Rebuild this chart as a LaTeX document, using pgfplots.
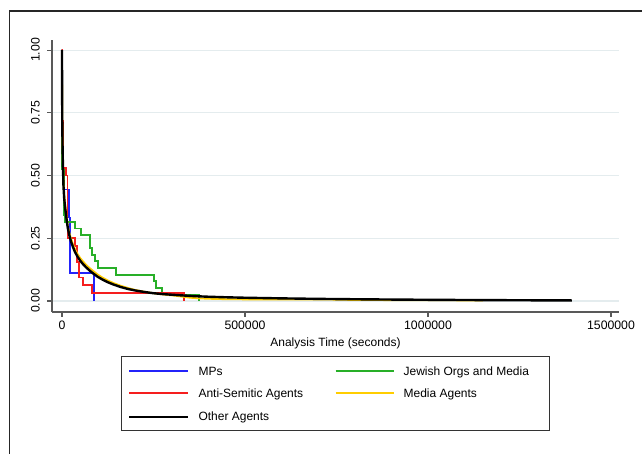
\documentclass[border=0pt]{standalone}
\usepackage{fontspec}
\setmainfont{Liberation Sans}
\usepackage{pgfplots}
\pgfplotsset{compat=1.18}
\usepackage{pgfplotstable}

\definecolor{mpblue}{RGB}{35,35,250}
\definecolor{asred}{RGB}{245,30,30}
\definecolor{jogreen}{RGB}{40,175,40}
\definecolor{mdyellow}{RGB}{255,205,0}
\definecolor{gridc}{RGB}{228,236,238}

% Kaplan-Meier survival estimates: time (s), survival
\pgfplotstableread{
t s
0 1
1000 0.667
4000 0.444
19000 0.333
21500 0.111
87000 0
}\kmMPs

\pgfplotstableread{
t s
0 1
1000 0.526
5000 0.342
8000 0.316
35000 0.289
53000 0.263
76000 0.211
83000 0.184
90000 0.158
98000 0.132
147000 0.105
251000 0.079
257000 0.053
273000 0.026
373500 0
}\kmJewish

\pgfplotstableread{
t s
0 1
800 0.719
3500 0.531
10000 0.5
15000 0.25
36000 0.219
40000 0.156
47000 0.094
58000 0.0625
81000 0.031
333000 0
}\kmAntiSem

\pgfplotstableread{
t s
0 1
300 0.86
800 0.73
1500 0.63
2500 0.55
4000 0.47
6000 0.42
8000 0.39
10000 0.365
13000 0.33
16000 0.30
20000 0.272
25000 0.247
30000 0.226
35000 0.208
42000 0.189
50000 0.171
58000 0.157
66000 0.144
75000 0.132
85000 0.12
97000 0.106
110000 0.094
125000 0.082
140000 0.072
160000 0.061
180000 0.052
200000 0.044
225000 0.037
250000 0.031
270000 0.027
290000 0.024
310000 0.021
330000 0.017
350000 0.013
380000 0.010
420000 0.008
460000 0.007
500000 0.0065
600000 0.006
700000 0.006
750000 0.0055
800000 0.004
900000 0.0035
1000000 0.003
1100000 0.0025
1150000 0.0025
}\kmMedia

\pgfplotstableread{
t s
0 1
300 0.85
800 0.72
1500 0.62
2500 0.54
4000 0.46
6000 0.41
8000 0.38
10000 0.355
13000 0.32
16000 0.29
20000 0.262
25000 0.236
30000 0.215
35000 0.197
42000 0.178
50000 0.16
58000 0.146
66000 0.134
75000 0.122
85000 0.11
97000 0.097
110000 0.086
125000 0.075
140000 0.066
160000 0.056
180000 0.048
200000 0.042
225000 0.036
250000 0.031
280000 0.027
320000 0.023
360000 0.0195
400000 0.017
450000 0.0148
500000 0.013
600000 0.0105
700000 0.0085
800000 0.007
900000 0.0058
1000000 0.0048
1100000 0.004
1200000 0.0033
1300000 0.0027
1393000 0.0022
}\kmOther

\begin{document}
\begin{tikzpicture}
\useasboundingbox (0pt,0pt) rectangle (481.5pt,339.75pt);
% outer graph frame
\draw[black!85, line width=0.9pt] (7.2pt,-2pt) -- (7.2pt,331.5pt) -- (484pt,331.5pt);
\begin{axis}[
  at={(39pt,105.75pt)}, anchor=south west,
  scale only axis, width=425.25pt, height=204pt,
  xmin=-27300, xmax=1521900, ymin=-0.0438, ymax=1.04,
  axis x line*=bottom, axis y line*=left,
  axis line style={black!65, line width=0.8pt, -},
  tick align=outside, major tick length=3.4pt,
  tick style={black!65, line width=0.8pt},
  scaled x ticks=false, scaled y ticks=false,
  xtick={0,500000,1000000,1500000},
  xticklabels={0,500000,1000000,1500000},
  ytick={0,0.25,0.5,0.75,1},
  yticklabels={0.00,0.25,0.50,0.75,1.00},
  /pgf/number format/assume math mode=true,
  ticklabel style={font=\fontsize{9.2}{11}\selectfont},
  yticklabel style={rotate=90, anchor=south, inner ysep=5.5pt},
  ymajorgrids, grid style={gridc, line width=0.8pt},
  xlabel={Analysis Time (seconds)},
  xlabel style={font=\fontsize{9}{11}\selectfont, at={(axis description cs:0.5,-0.114)}, anchor=center},
]
\addplot[mpblue, line width=1.35pt, const plot] table[x=t, y=s] {\kmMPs};
\addplot[jogreen, line width=1.35pt, const plot] table[x=t, y=s] {\kmJewish};
\addplot[asred, line width=1.35pt, const plot] table[x=t, y=s] {\kmAntiSem};
\addplot[mdyellow, line width=1.35pt] table[x=t, y=s] {\kmMedia};
\addplot[black, line width=1.8pt] table[x=t, y=s] {\kmOther};
\end{axis}
% legend
\begin{scope}[font=\fontsize{9}{11}\selectfont]
\draw[black!80, line width=0.7pt, fill=white] (91.3pt,17.25pt) rectangle (411.75pt,72.75pt);
\draw[mpblue, line width=1.2pt] (97pt,61.5pt) -- (141.2pt,61.5pt);
\node[anchor=base west, inner sep=0pt] at (148.7pt,58.3pt) {MPs};
\draw[jogreen, line width=1.2pt] (251.8pt,61.5pt) -- (295.5pt,61.5pt);
\node[anchor=base west, inner sep=0pt] at (302.5pt,58.3pt) {Jewish Orgs and Media};
\draw[asred, line width=1.2pt] (97pt,45pt) -- (141.2pt,45pt);
\node[anchor=base west, inner sep=0pt] at (148.7pt,41.6pt) {Anti-Semitic Agents};
\draw[mdyellow, line width=1.2pt] (251.8pt,45pt) -- (295.5pt,45pt);
\node[anchor=base west, inner sep=0pt] at (302.5pt,41.6pt) {Media Agents};
\draw[black, line width=1.2pt] (97pt,27pt) -- (141.2pt,27pt);
\node[anchor=base west, inner sep=0pt] at (148.7pt,24.4pt) {Other Agents};
\end{scope}
\end{tikzpicture}
\end{document}
